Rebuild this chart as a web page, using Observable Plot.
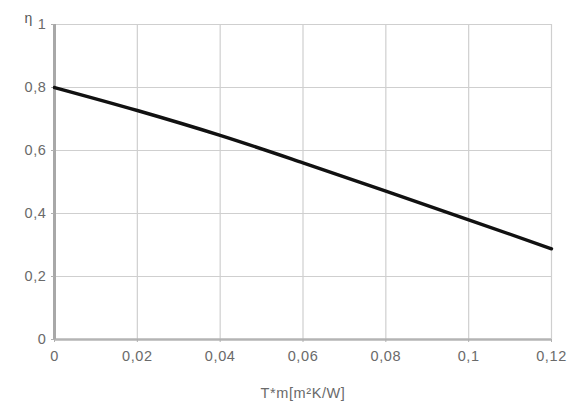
<!DOCTYPE html>
<html>
<head>
<meta charset="utf-8">
<script src="https://cdn.jsdelivr.net/npm/d3@7"></script>
<script src="https://cdn.jsdelivr.net/npm/@observablehq/plot@0.6"></script>
<style>
  body { margin: 0; background: #fff; }
  svg { font-family: "Liberation Sans", Arial, sans-serif; letter-spacing: 0.6px; }
</style>
</head>
<body>
<div id="chart"></div>
<script>
const tmValues = [0, 0.02, 0.04, 0.06, 0.08, 0.10, 0.12];
const etaValues = [0.80, 0.727, 0.648, 0.561, 0.471, 0.380, 0.288];
const xTicks = [0, 0.02, 0.04, 0.06, 0.08, 0.10, 0.12];
const yTicks = [0, 0.2, 0.4, 0.6, 0.8, 1];
const yLabel = "η";
const xLabel = "T*m[m²K/W]";

const data = tmValues.map((t, i) => ({t, eta: etaValues[i]}));
const fmt = d => String(+d.toFixed(2)).replace(".", ",");

const chart = Plot.plot({
  width: 571,
  height: 408,
  marginLeft: 54,
  marginRight: 20,
  marginTop: 24,
  marginBottom: 69,
  style: {fontSize: "14.5px", color: "#6a6a6a", background: "#fff"},
  x: {domain: [0, 0.12]},
  y: {domain: [0, 1]},
  marks: [
    Plot.gridX(xTicks, {stroke: "#cfcfcf", strokeOpacity: 1, strokeWidth: 1.2}),
    Plot.gridY(yTicks, {stroke: "#cfcfcf", strokeOpacity: 1, strokeWidth: 1.2}),
    Plot.ruleY([0], {stroke: "#b4b4b4", strokeWidth: 2.5}),
    Plot.ruleX([0], {stroke: "#a8a8a8", strokeWidth: 3}),
    Plot.axisX(xTicks, {tickFormat: fmt, tickSize: 3, tickPadding: 8, stroke: "#b0b0b0",
      label: xLabel, labelAnchor: "center", labelArrow: "none", labelOffset: 58}),
    Plot.axisY(yTicks, {tickFormat: fmt, tickSize: 3, tickPadding: 5, stroke: "#b0b0b0", label: null}),
    Plot.text([yLabel], {frameAnchor: "top-left", dx: -30, dy: -11, fill: "#555", fontSize: 14}),
    Plot.line(data, {x: "t", y: "eta", stroke: "#111", strokeWidth: 3.4, curve: "monotone-x"})
  ]
});
document.getElementById("chart").appendChild(chart);
</script>
</body>
</html>
